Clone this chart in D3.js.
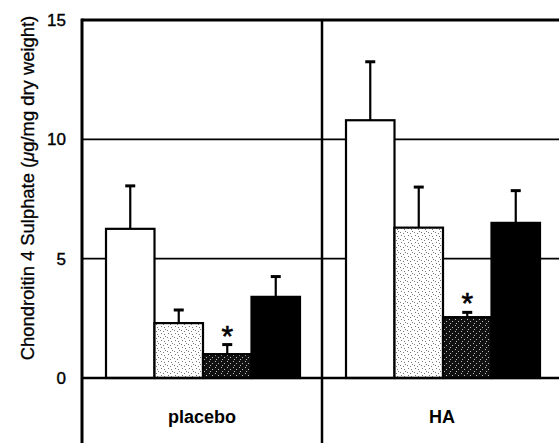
<!DOCTYPE html>
<html>
<head>
<meta charset="utf-8">
<script src="https://cdn.jsdelivr.net/npm/d3@7"></script>
<style>
  body { margin: 0; background: #fff; }
  text { font-family: "Liberation Sans", Arial, sans-serif; }
</style>
</head>
<body>
<div id="chart"></div>
<script>
//Chart data
var groups = ["placebo", "HA"];
var treatments = ["t1", "t2", "t3", "t4"];
var placeboMeans = [6.25, 2.3, 1.0, 3.4];
var placeboErrors = [1.8, 0.55, 0.4, 0.85];
var haMeans = [10.8, 6.3, 2.55, 6.5];
var haErrors = [2.45, 1.7, 0.2, 1.35];
var significant = [false, false, true, false];
var yTicks = [0, 5, 10, 15];

//Chart set up
var svgWidth = 559;
var svgHeight = 443;
var margin = {top: 20, left: 82, bottom: 65};
var panelWidth = 240;

var svg = d3.select("#chart")
    .append("svg")
    .attr("width", svgWidth)
    .attr("height", svgHeight);

var defs = svg.append("defs");

// light stipple
var light = defs.append("pattern")
    .attr("id", "light")
    .attr("width", 7).attr("height", 7)
    .attr("patternUnits", "userSpaceOnUse");
light.append("rect").attr("width", 7).attr("height", 7).attr("fill", "#fff");
[[1,1],[4,2],[2,4],[5,5],[6,0]].forEach(function(p){
    light.append("rect").attr("x", p[0]).attr("y", p[1]).attr("width", 1).attr("height", 1).attr("fill", "#777");
});

// dark stipple
var dark = defs.append("pattern")
    .attr("id", "dark")
    .attr("width", 6).attr("height", 6)
    .attr("patternUnits", "userSpaceOnUse");
dark.append("rect").attr("width", 6).attr("height", 6).attr("fill", "#111");
[[1,1],[4,3],[2,5]].forEach(function(p){
    dark.append("rect").attr("x", p[0]).attr("y", p[1]).attr("width", 1).attr("height", 1).attr("fill", "#bbb");
});

var fills = ["#fff", "url(#light)", "url(#dark)", "#000"];

var data = groups.map(function(g, i){
    var means = i === 0 ? placeboMeans : haMeans;
    var errs = i === 0 ? placeboErrors : haErrors;
    return treatments.map(function(t, j){
        return {group: g, treatment: t, mean: means[j], err: errs[j], sig: significant[j], idx: j};
    });
});

//Scales
var yScale = d3.scaleLinear()
    .domain([0, 15])
    .range([378, margin.top]);

var xGroup = d3.scaleBand()
    .domain(groups)
    .range([margin.left, margin.left + panelWidth * 2]);

var xInner = d3.scaleBand()
    .domain(treatments)
    .range([24, 218]);

// gridlines
svg.append("g").selectAll("line")
    .data([5, 10])
    .enter()
    .append("line")
    .attr("x1", margin.left)
    .attr("x2", svgWidth)
    .attr("y1", d => yScale(d))
    .attr("y2", d => yScale(d))
    .attr("stroke", "#000")
    .attr("stroke-width", 1.6);

// bars
var groupG = svg.selectAll(".grp")
    .data(data)
    .enter()
    .append("g")
    .attr("class", "grp")
    .attr("transform", (d, i) => `translate(${xGroup(groups[i])},0)`);

var barG = groupG.selectAll(".bar")
    .data(d => d)
    .enter()
    .append("g")
    .attr("class", "bar");

barG.append("line")
    .attr("x1", d => xInner(d.treatment) + xInner.bandwidth() / 2)
    .attr("x2", d => xInner(d.treatment) + xInner.bandwidth() / 2)
    .attr("y1", d => yScale(d.mean))
    .attr("y2", d => yScale(d.mean + d.err))
    .attr("stroke", "#000")
    .attr("stroke-width", 2.2);

barG.append("line")
    .attr("x1", d => xInner(d.treatment) + xInner.bandwidth() / 2 - 5)
    .attr("x2", d => xInner(d.treatment) + xInner.bandwidth() / 2 + 5)
    .attr("y1", d => yScale(d.mean + d.err))
    .attr("y2", d => yScale(d.mean + d.err))
    .attr("stroke", "#000")
    .attr("stroke-width", 3);

barG.append("rect")
    .attr("x", d => xInner(d.treatment))
    .attr("y", d => yScale(d.mean))
    .attr("width", xInner.bandwidth())
    .attr("height", d => yScale(0) - yScale(d.mean))
    .attr("fill", d => fills[d.idx])
    .attr("stroke", "#000")
    .attr("stroke-width", 2.2);

barG.filter(d => d.sig)
    .append("text")
    .attr("x", d => xInner(d.treatment) + xInner.bandwidth() / 2)
    .attr("y", d => yScale(d.mean + d.err) + 1)
    .attr("text-anchor", "middle")
    .attr("font-size", 30)
    .attr("stroke", "#000")
    .attr("stroke-width", 0.6)
    .text("*");

// frame
svg.append("line")
    .attr("x1", margin.left).attr("x2", svgWidth)
    .attr("y1", yScale(15)).attr("y2", yScale(15))
    .attr("stroke", "#000").attr("stroke-width", 3);

svg.append("line")
    .attr("x1", margin.left).attr("x2", svgWidth)
    .attr("y1", yScale(0)).attr("y2", yScale(0))
    .attr("stroke", "#000").attr("stroke-width", 2.5);

svg.append("line")
    .attr("x1", margin.left).attr("x2", margin.left)
    .attr("y1", yScale(15) - 1.5).attr("y2", svgHeight)
    .attr("stroke", "#000").attr("stroke-width", 3);

svg.append("line")
    .attr("x1", xGroup("HA")).attr("x2", xGroup("HA"))
    .attr("y1", yScale(15)).attr("y2", svgHeight)
    .attr("stroke", "#000").attr("stroke-width", 2.5);

//Axis
var leftAxis = d3.axisLeft(yScale)
    .tickValues(yTicks)
    .tickSize(0)
    .tickPadding(16);

var axisG = svg.append("g")
    .attr("transform", `translate(${margin.left},0)`)
    .call(leftAxis);
axisG.select(".domain").remove();
axisG.selectAll("text")
    .attr("font-size", 17)
    .attr("font-family", "Liberation Sans, Arial, sans-serif")
    .attr("fill", "#000")
    .attr("stroke", "#000")
    .attr("stroke-width", 0.4);

// group labels
svg.append("g").selectAll("text")
    .data(groups)
    .enter()
    .append("text")
    .attr("x", d => xGroup(d) + xGroup.bandwidth() / 2)
    .attr("y", 423)
    .attr("text-anchor", "middle")
    .attr("font-size", 18)
    .attr("font-weight", "bold")
    .text(d => d);

// y label
var yLabel = svg.append("text")
    .attr("transform", `translate(34, 188)rotate(-90)`)
    .attr("text-anchor", "middle")
    .attr("font-size", 18.4)
    .attr("stroke", "#000")
    .attr("stroke-width", 0.3);
yLabel.append("tspan").text("Chondroitin 4 Sulphate (");
yLabel.append("tspan").attr("font-style", "italic").text("μ");
yLabel.append("tspan").text("g/mg dry weight)");
</script>
</body>
</html>
